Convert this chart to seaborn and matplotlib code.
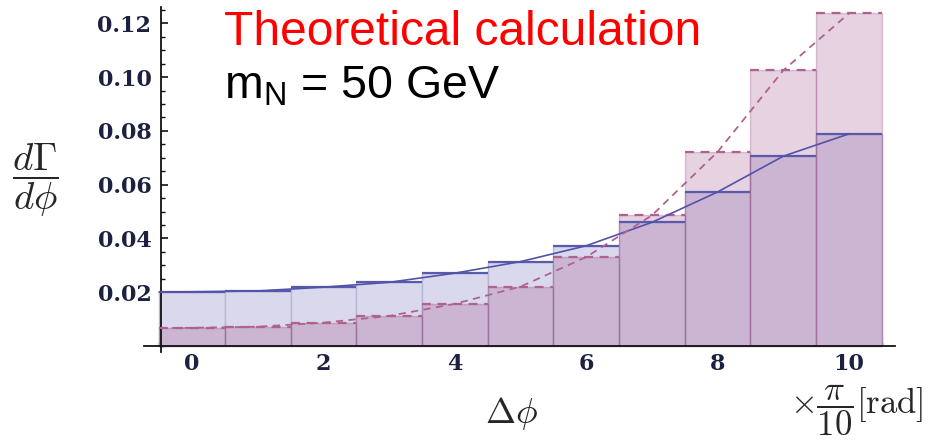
import numpy as np
import pandas as pd
import matplotlib
matplotlib.use("Agg")
import matplotlib.pyplot as plt
import seaborn as sns
from matplotlib.ticker import MultipleLocator

# bin centres (units of pi/10) and dGamma/dphi
bins = [0, 1, 2, 3, 4, 5, 6, 7, 8, 9, 10]
blue_vals = [0.0202, 0.0205, 0.0219, 0.0237, 0.0271, 0.0312, 0.0373, 0.0460, 0.0573, 0.0706, 0.0789]
pink_vals = [0.0068, 0.0072, 0.0087, 0.0112, 0.0157, 0.0221, 0.0331, 0.0486, 0.0722, 0.1025, 0.1237]

# smooth curves drawn through the bins
curve_x = [-0.5, 0, 1, 2, 3, 4, 5, 6, 7, 8, 9, 10]
blue_curve = [0.0201, 0.0202, 0.0205, 0.0219, 0.0237, 0.0271, 0.0314, 0.0373, 0.0460, 0.0573, 0.0706, 0.0789]
pink_curve = [0.0067, 0.0068, 0.0072, 0.0087, 0.0112, 0.0157, 0.0221, 0.0331, 0.0486, 0.0722, 0.1025, 0.1237]

yticks = [0.02, 0.04, 0.06, 0.08, 0.10, 0.12]
xticks = [0, 2, 4, 6, 8, 10]

sns.set_style("ticks")
plt.rcParams["font.family"] = ["DejaVu Serif"]
plt.rcParams["mathtext.fontset"] = "custom"
plt.rcParams["mathtext.rm"] = "Liberation Sans"
plt.rcParams["mathtext.it"] = "Liberation Sans:italic"

fig = plt.figure(figsize=(9.37, 4.41), dpi=100)
ax = fig.add_axes([0.1537, 0.2018, 0.8015, 0.782])

df = pd.DataFrame({"bin": bins, "blue": blue_vals, "pink": pink_vals})
b = np.array(bins)

sns.barplot(data=df, x="bin", y="blue", native_scale=True, width=1, color="#dad8ec",
            saturation=1, edgecolor="#b9b6d8", linewidth=1.0, ax=ax, zorder=1)
sns.barplot(data=df, x="bin", y="pink", native_scale=True, width=1, color="#a3598f",
            saturation=1, alpha=0.27, edgecolor="#8a3f78", linewidth=1.0, ax=ax, zorder=2)

# bin tops
ax.hlines(blue_vals, b - 0.5, b + 0.5, color="#5a5aac", lw=1.6, zorder=4)
ax.hlines(pink_vals, b - 0.5, b + 0.5, color="#b0628f", lw=1.6, linestyles=(0, (4, 3)), zorder=4)

sns.lineplot(x=curve_x, y=blue_curve, color="#5252aa", lw=1.2, ax=ax, zorder=5)
sns.lineplot(x=curve_x, y=pink_curve, color="#b0628f", lw=1.3, ax=ax, zorder=5,
             linestyle=(0, (4, 3)))

ax.set_xlim(-0.73, 10.7)
ax.set_ylim(-0.0022, 0.126)
ax.spines["left"].set_position(("data", -0.47))
ax.spines["bottom"].set_position(("data", 0))
ax.spines["top"].set_visible(False)
ax.spines["right"].set_visible(False)
for s in ("left", "bottom"):
    ax.spines[s].set_linewidth(1.3)
    ax.spines[s].set_color("#111111")

ax.set_xticks(xticks)
ax.set_xticklabels([str(t) for t in xticks])
ax.set_yticks(yticks)
ax.set_yticklabels([f"{t:.2f}" for t in yticks])
ax.xaxis.set_minor_locator(MultipleLocator(0.5))
ax.yaxis.set_minor_locator(MultipleLocator(0.005))
ax.tick_params(which="major", direction="in", length=5, width=1.2, color="#111111",
               labelsize=16, labelcolor="#1c2140")
ax.tick_params(which="minor", direction="in", length=3, width=1.0, color="#111111")
ax.tick_params(axis="y", pad=7)
ax.tick_params(axis="x", pad=5)
for lab in ax.get_xticklabels() + ax.get_yticklabels():
    lab.set_fontweight("bold")
ax.set_xlabel("")
ax.set_ylabel("")

fig.text(35 / 937, 1 - 180 / 441, r"$\dfrac{d\Gamma}{d\phi}$", ha="center", va="center",
         fontsize=28, math_fontfamily="cm")
fig.text(511 / 937, 1 - 423 / 441, r"$\Delta\phi$", ha="center", va="baseline",
         fontsize=26, math_fontfamily="cm")
fig.text(790 / 937, 1 - 410 / 441, r"$\times\dfrac{\pi}{10}[\mathrm{rad}]$", ha="left",
         va="center", fontsize=25, math_fontfamily="cm")

fig.text(224 / 937, 1 - 45 / 441, "Theoretical calculation", color="#ff0000",
         fontsize=34.5, family="Liberation Sans", va="baseline", ha="left")
fig.text(224 / 937, 1 - 99 / 441, r"m$_{\mathrm{N}}$ = 50 GeV", color="black",
         fontsize=33.5, family="Liberation Sans", va="baseline", ha="left")

fig.savefig("out.png", dpi=100)
